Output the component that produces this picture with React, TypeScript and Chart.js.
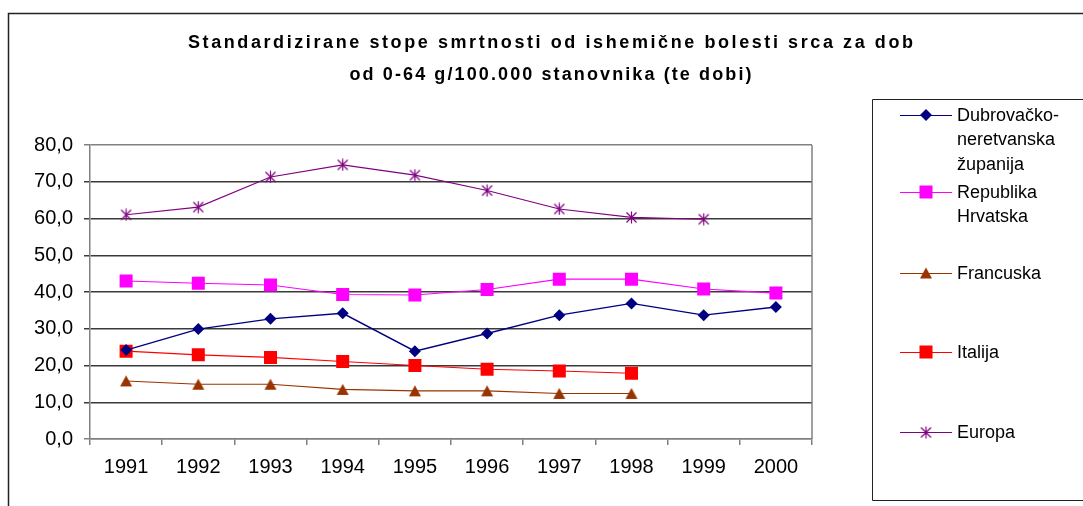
import { useEffect, useRef } from 'react';
import { Chart, registerables } from 'chart.js';

Chart.register(...registerables);

const years = ['1991', '1992', '1993', '1994', '1995', '1996', '1997', '1998', '1999', '2000'];
const dubrovnik = [24.2, 29.9, 32.7, 34.2, 23.9, 28.7, 33.7, 36.9, 33.7, 35.9];
const hrvatska = [43.0, 42.4, 41.9, 39.3, 39.2, 40.7, 43.5, 43.5, 40.8, 39.7];
const francuska = [15.8, 14.9, 14.9, 13.5, 13.1, 13.1, 12.4, 12.4, null, null];
const italija = [23.9, 22.9, 22.2, 21.1, 20.0, 19.0, 18.5, 17.9, null, null];
const europa = [61.0, 63.1, 71.3, 74.6, 71.8, 67.6, 62.6, 60.3, 59.8, null];

const yMin = 0;
const yMax = 80;
const yStep = 10;

const titleLines = [
  'Standardizirane stope smrtnosti od ishemične bolesti srca za dob',
  'od 0-64 g/100.000 stanovnika (te dobi)',
];

const seriesNames = [
  'Dubrovačko-neretvanska županija',
  'Republika Hrvatska',
  'Francuska',
  'Italija',
  'Europa',
];
const legendLines = [
  ['Dubrovačko-', 'neretvanska', 'županija'],
  ['Republika', 'Hrvatska'],
  ['Francuska'],
  ['Italija'],
  ['Europa'],
];

const colors = ['#000080', '#FF00FF', '#993300', '#FF0000', '#800080'];
const FONT = "'Liberation Sans', Arial, sans-serif";

function makeTriangle(color: string) {
  const c = document.createElement('canvas');
  c.width = 14;
  c.height = 13;
  const g = c.getContext('2d')!;
  g.fillStyle = color;
  g.beginPath();
  g.moveTo(7, 1);
  g.lineTo(13, 12);
  g.lineTo(1, 12);
  g.closePath();
  g.fill();
  return c;
}

function makeStar(color: string) {
  const c = document.createElement('canvas');
  c.width = 13;
  c.height = 13;
  const g = c.getContext('2d')!;
  g.strokeStyle = color;
  g.lineWidth = 1.2;
  g.beginPath();
  g.moveTo(1.5, 1.5);
  g.lineTo(11.5, 11.5);
  g.moveTo(11.5, 1.5);
  g.lineTo(1.5, 11.5);
  g.moveTo(6.5, 0.5);
  g.lineTo(6.5, 12.5);
  g.stroke();
  return c;
}

export default function App() {
  const ref = useRef<HTMLCanvasElement | null>(null);

  useEffect(() => {
    document.body.style.margin = '0';
    const canvas = ref.current!;
    const tri = makeTriangle(colors[2]);
    const star = makeStar(colors[4]);

    const decor = {
      id: 'decor',
      afterDraw(chart: any) {
        const ctx = chart.ctx as CanvasRenderingContext2D;
        const area = chart.chartArea;
        ctx.save();
        // outer frame
        ctx.strokeStyle = '#222';
        ctx.lineWidth = 1.5;
        ctx.beginPath();
        ctx.moveTo(8.5, 520);
        ctx.lineTo(8.5, 13.5);
        ctx.lineTo(1100, 13.5);
        ctx.stroke();
        // plot right border
        ctx.strokeStyle = '#808080';
        ctx.lineWidth = 1.5;
        ctx.beginPath();
        ctx.moveTo(area.right, area.top);
        ctx.lineTo(area.right, area.bottom);
        ctx.stroke();

        // title
        ctx.fillStyle = '#000';
        ctx.font = `bold 18px ${FONT}`;
        ctx.textBaseline = 'alphabetic';
        ctx.textAlign = 'left';
        const targets = [725, 402];
        const baselines = [48, 80];
        titleLines.forEach((t, i) => {
          (ctx as any).letterSpacing = '0px';
          const w0 = ctx.measureText(t).width;
          const sp = Math.max(0, (targets[i] - w0) / (t.length - 1));
          (ctx as any).letterSpacing = `${sp}px`;
          ctx.fillText(t, 550.5 - targets[i] / 2, baselines[i]);
        });
        (ctx as any).letterSpacing = '0px';

        // legend box
        ctx.strokeStyle = '#222';
        ctx.lineWidth = 1;
        ctx.beginPath();
        ctx.moveTo(1100, 99.5);
        ctx.lineTo(872.5, 99.5);
        ctx.lineTo(872.5, 500.5);
        ctx.lineTo(1100, 500.5);
        ctx.stroke();

        const itemY = [115, 192, 273, 352, 432];
        const lineGap = 24.5;
        ctx.font = `18px ${FONT}`;
        ctx.textBaseline = 'middle';
        legendLines.forEach((lines, i) => {
          const y = itemY[i];
          ctx.strokeStyle = colors[i];
          ctx.lineWidth = 1.2;
          ctx.beginPath();
          ctx.moveTo(900, y + 0.5);
          ctx.lineTo(952, y + 0.5);
          ctx.stroke();
          ctx.fillStyle = colors[i];
          const cx = 926;
          if (i === 0) {
            ctx.beginPath();
            ctx.moveTo(cx, y - 6);
            ctx.lineTo(cx + 6, y);
            ctx.lineTo(cx, y + 6);
            ctx.lineTo(cx - 6, y);
            ctx.closePath();
            ctx.fill();
          } else if (i === 1 || i === 3) {
            ctx.fillRect(cx - 6.5, y - 6.5, 13, 13);
          } else if (i === 2) {
            ctx.drawImage(tri, cx - 7, y - 6.5);
          } else {
            ctx.drawImage(star, cx - 6.5, y - 6);
          }
          ctx.fillStyle = '#000';
          lines.forEach((t, j) => ctx.fillText(t, 957, y + j * lineGap + 1));
        });
        ctx.restore();
      },
    };

    const series = [dubrovnik, hrvatska, francuska, italija, europa];
    const styles: any[] = ['rectRot', 'rect', tri, 'rect', star];
    const radii = [6, 9.2, 7, 9.2, 7];

    const chart = new Chart(canvas, {
      type: 'line',
      data: {
        labels: years,
        datasets: series.map((d, i) => ({
          label: seriesNames[i],
          data: d,
          borderColor: colors[i],
          backgroundColor: colors[i],
          borderWidth: i === 0 ? 1.4 : 1.1,
          pointStyle: styles[i],
          pointRadius: radii[i],
          pointBorderWidth: 0,
          pointBackgroundColor: colors[i],
          pointBorderColor: colors[i],
          tension: 0,
          spanGaps: false,
        })),
      },
      options: {
        responsive: false,
        animation: false,
        events: [],
        layout: { padding: { top: 145, right: 271, left: 0, bottom: 0 } },
        plugins: {
          legend: { display: false },
          title: { display: false },
          tooltip: { enabled: false },
        },
        scales: {
          x: {
            offset: true,
            grid: {
              offset: true,
              drawOnChartArea: false,
              drawTicks: true,
              tickLength: 6,
              color: '#808080',
              lineWidth: 1.5,
            },
            border: { color: '#808080', width: 1.5 },
            ticks: {
              color: '#000',
              font: { family: FONT, size: 20 },
              padding: 10,
              maxRotation: 0,
              autoSkip: false,
            },
            afterFit: (s: any) => {
              s.height = 67;
            },
          },
          y: {
            min: yMin,
            max: yMax,
            ticks: {
              stepSize: yStep,
              color: '#000',
              font: { family: FONT, size: 20 },
              padding: 11,
              callback: (v: any) => Number(v).toFixed(1).replace('.', ','),
            },
            grid: {
              color: (c: any) =>
                c.tick && (c.tick.value === yMin || c.tick.value === yMax) ? '#808080' : '#3a3a3a',
              lineWidth: 1.5,
              tickLength: 6,
            },
            border: { color: '#808080', width: 1.5 },
            afterFit: (s: any) => {
              s.width = 90;
            },
          },
        },
      },
      plugins: [decor],
    });
    return () => chart.destroy();
  }, []);

  return (
    <div style={{ width: 1083, height: 506, position: 'relative' }}>
      <canvas ref={ref} width={1083} height={506} style={{ display: 'block' }} />
    </div>
  );
}
